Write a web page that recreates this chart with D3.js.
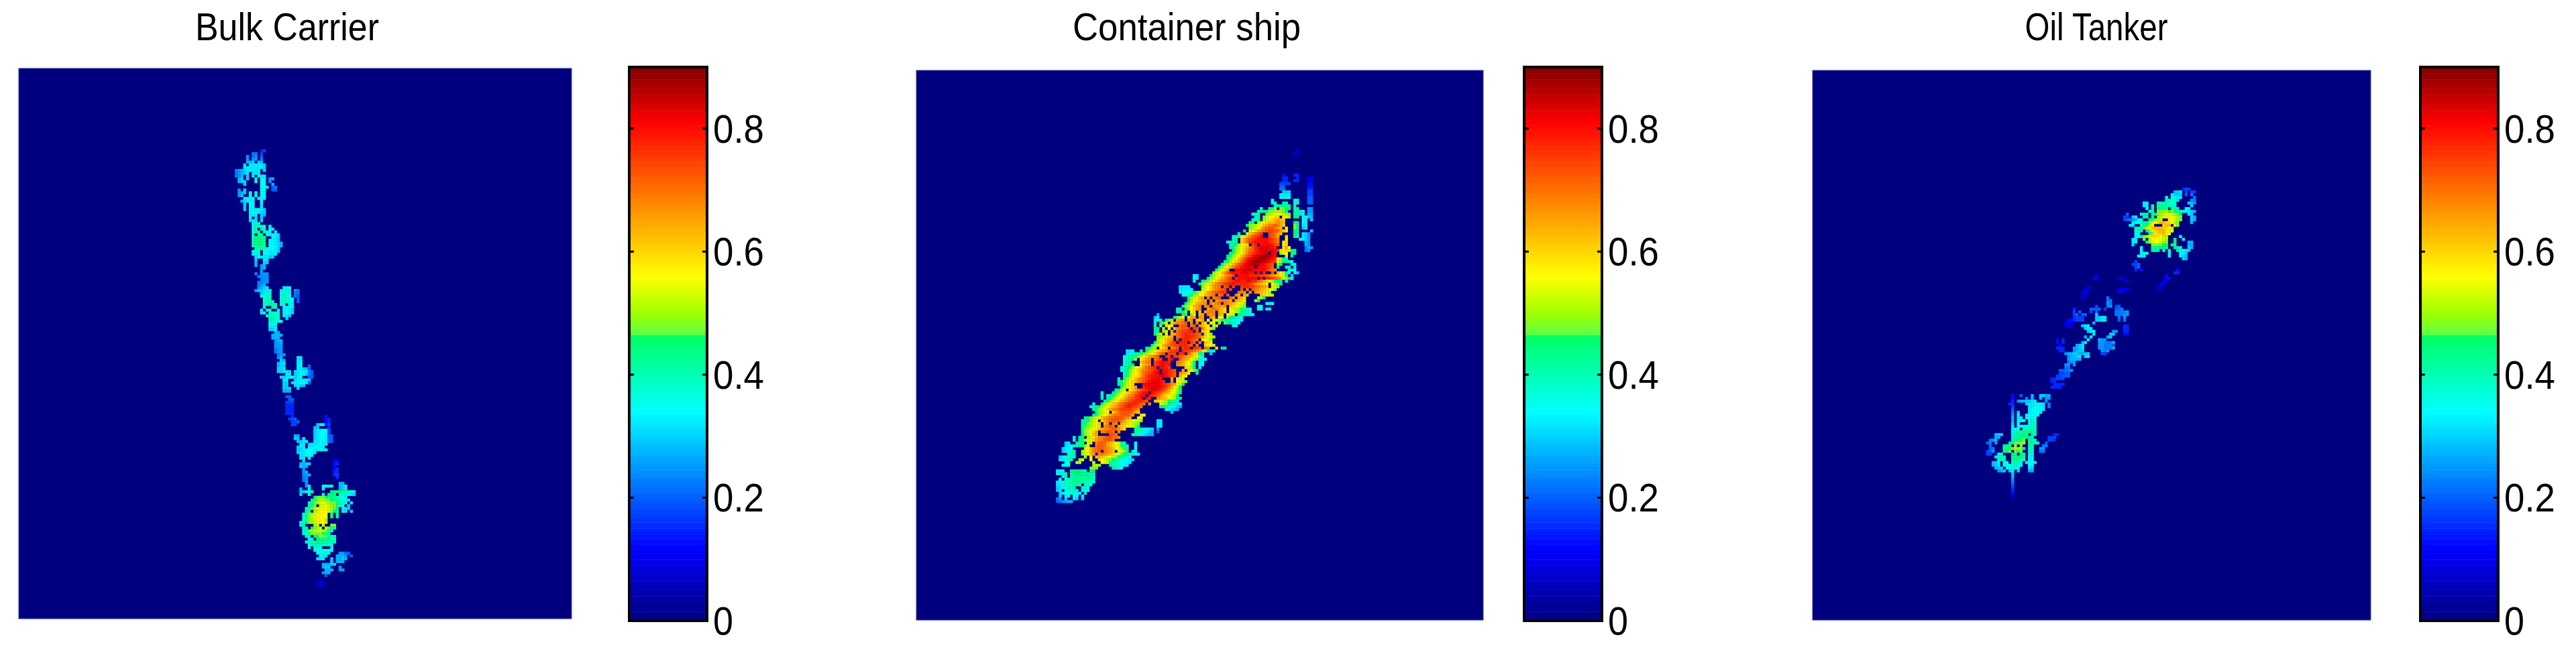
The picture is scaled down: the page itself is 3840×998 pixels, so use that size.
<!DOCTYPE html>
<html>
<head>
<meta charset="utf-8">
<script src="https://cdn.jsdelivr.net/npm/d3@7"></script>
<style>
html, body { margin: 0; background: #fff; }
text { font-family: "Liberation Sans", Arial, sans-serif; fill: #000; }
</style>
</head>
<body>
<script>
var titles = ["Bulk Carrier", "Container ship", "Oil Tanker"];
var titleWidths = [274, 340, 213];
var titleCenters = [428, 1769, 3125];
var tickValues = [0, 0.2, 0.4, 0.6, 0.8];
var colorMax = 0.9;
var colorStops = [0, 0.117, 0.34, 0.462, 0.468, 0.5, 0.56, 0.685, 0.81, 0.9];
var colorValues = ["#00007f", "#0000ff", "#00ffff", "#00ff66", "#66ff40", "#a0ff00", "#ffff00", "#ff8000", "#ff0000", "#800000"];

// cell levels, one char per cell: index in levelChars * levelStep, "." is an empty cell
var levelChars = "0123456789abcdefghijklmnopqrstuvwxyz";
var levelStep = 0.025;

// one string per row, "startCol:levels startCol:levels"
var bulkRows = [
"9:67","6:99 9:7","4:a 6:9a 9:8","4:a 6:aa 9:9","4:bbc 8:cb","3:c 5:dddddc","3:dddddddc","0:9abcddddd 10:c",
"0:9abcd 6:ddd","0:9ab 4:c 6:d 8:edd","1:bc 4:c 7:f 9:ee 12:ab","1:bcc 7:f 9:ee 12:a","3:c 9:ee 13:b","9:eed 13:89","1:a 3:c 9:ee 13:88","1:abc 5:e 7:e 9:ee",
"1:ac 5:e 7:e 9:ee","3:ddde 8:edd","2:bcddd 9:e","3:c 5:ee 9:d","3:c 5:ee 9:d","3:c 5:eeeedc","5:deedcc","5:ddd 9:cb",
"5:d 7:c 9:c","5:cdd 9:c","6:eff","6:efggf 12:e","6:fg 9:gf 12:ed","6:fgh 10:gfe 14:d","6:g 8:hh 11:eeddc","6:fhiih 13:edc",
"6:ghiih 12:eedc","6:ghiih 12:eedcb","6:ghiig 12:eedcb","7:gghgfeedc","6:eff 10:fedddc","6:def 10:eeddd","7:dedddcc","7:c 10:dd",
"7:b 10:cc","7:b 9:ab","9:ab","9:a","7:9 9:aaa","8:9aaa","9:9aa","8:99aa",
"8:9ab","8:abcd 17:dee","7:accdef 16:deff 21:a9","9:cdef 16:effe 21:99","9:efgf 16:fgfe 21:98","10:fgg 16:fgffe 22:8","10:fggg 16:fffed 22:8","10:fghhg 16:ff 19:ed",
"10:f 13:gf 17:eeed","9:d 11:ff 15:f 17:eedc","9:dd 12:ffff 17:eedc","11:fggff 17:ddc","12:gggf 18:c","12:ggfee","12:eee","12:ddd",
"12:ccd","14:bb",
"13:bbbb","13:bbb","14:abb","14:aab","14:aaa","14:9aa","14:9aa","15:9aa",
"15:ab 22:dd","16:cb 22:dd","15:bcd 22:de","15:bcc 22:de 26:8","15:ccd 22:ddcb 26:8","15:ccddc 21:cdeedc 26:98","18:dd 21:cdeec 26:98","16:ccdde 21:cde 26:88",
"17:dd 21:cddddc","17:cc 20:cddeedc 26:8","17:cc 21:cdcc","17:ccc 22:c","17:bbb","","18:88","19:88",
"18:777","18:666","18:666","18:666","18:666","20:6 32:5","19:778 32:56","20:778 32:56",
"20:77 29:cde 32:57","28:bc 33:6","28:cddeec 33:7","28:cdeeed 33:7","21:bb 28:cdeedc 33:88","21:cc 24:d 28:cdeedc 33:88","22:ccdd 28:ddeedc 33:88","23:dd 26:cddeedd",
"22:cdd 26:ddeedd","22:ccddeedd 30:edd","22:cddeeed","23:ddeed","23:dd 26:d","24:c 35:55","23:bbcc 35:56","23:cbb 35:5",
"24:a 35:56","24:ab 35:66","24:aab 35:67","24:9a 36:6","24:9a","25:a 37:bb","25:ad 31:eefg 37:bcd","23:b 26:f 31:f 37:bcd",
"23:ccdeg 34:hhiihgfed","23:c 26:f 31:f 33:iih 37:gffedc","28:ijjjiihhgfed","27:hijkkjjiihgfed","26:gijklmlkjjihgf 41:d","26:gij.llmlkjhfe 40:c","25:ghjlmnnmlkjh 38:fdc","25:gh.klmnmlkih 38:fd 41:c",
"24:fhjklmnnm 34:h 36:h","24:fhjlmnnnm 34:i 36:h","24:fhjklmnmk","23:egijklmnml","23:fg.. 27:.kl.l..kj","24:fg.ijkl.ljhf","24:fhjklllkjif","24:ffhjjjjihg",
"25:fg.iikjjig 35:h","26:ef.ihihhg 34:gf","25:ffgghhhgggf","26:eggggggfe","26:e 28:ffe 33:.f","28:feeeeee","29:eefff 37:aabb 39:88","30:edd 36:bbb 38:ba 41:8",
"29:dde 34:c 36:bbcb","34:c 36:bbb","31:bbbcc","31:bcc 37:a","32:bbb 37:aa","31:abb","32:8","","30:3","29:233","29:222"
];

var containerRows = [
"","92:2","91:22","91:22","","","","","","",
"87:5 91:66","87:66 92:6 96:44","87:66 91:66 96:44","86:7777 96:55","86:88 96:55","86:99 96:66","87:ccc 96:77","86:dddd 96:77","86:eeee 96:88","83:f 91:ff 96:88",
"83:gg 87:hh 91:ff 96:88","84:ghhhhh 91:g","79:g 82:hij 86:jjih 91:gh 96:aa","78:ghhijjkkkji 91:hgff 96:aa","76:fgg 81:jklmmmlkj 91:hgfe 96:bb","77:gh 80:jlmnoo 87:nmk 91:ii 94:ee 96:cb","76:ggh 80:jlnopqp 87:o 94:ed 97:c","75:hi 78:jlnoppqrqp 91:ii 94:ed","74:ijk 77:klnpqrstsqo 91:jh 94:dd","75:jklnprsttsqp 88:n 91:jh 94:cd",
"73:i 75:lmoqrstuuttqon 91:ih 97:c","71:h 74:noqstu 82:utsqp 91:ih 94:dca","69:ggh 72:lnprtuvw 82:utsq 88:o 91:ig 94:dca","69:gh 72:oqstuvwwwwvuts 88:n 93:e 94:dca","67:fggh 72:oqsuvwwwwwvuts 87:no 95:ba","68:ghiklmo 76:uv 79:wwwwvut 87:no 95:ba","68:ghjlmoprtvwxxxwwv 87:nqm 95:9ba","69:ijlmoqstvwxxxxxwv 86:lnoo 90:ih 95:9a","68:hiklnprtuvwxxy 83:xw 86:kmm 90:ih","67:hiklnprtuwxyyzzyxw 88:l 90:h",
"67:ijlnprtvwxyzzzyxwv 85:mkhe","66:hikmoqsuwxyzzzyxwvu 85:lkh 88:hge","65:hjlnprtuwxyyzyxwvut 85:ji 90:gf","64:hjlnprtuwwxxx 78:xwwvut 85:i 88:gf 91:d","63:ikmoq 70:wwxxxxxwwwwvts 84:r 89:gfe","62:jlnprtvwwwxxxww 78:w 80:v 83:t 85:pnlhf 91:dc","55:ed 61:iklnoqrsu 71:wwwwvvvvuutsrqp 86:nlh 90:c","55:ee 60:ijkmoqrtu 70:vwwwwwww 79:w 81:vvutsqmkih 90:g","55:f 58:ghjlmoqrstuvwwvvwwvvtsqomki 85:ih 88:f","57:ijlmoprstuvvwvvvvvutrqpon 83:mkji",
"50:dddd 58:jlmoqrs.tu.u..uvvuutsrqp.olj","50:dddde 58:klnoqrstu.u...t.s.tsrqpomlj","50:deeef 55:hjlmoqrstuvu....ssr.r.rqpolk","51:eef 54:ijkmnpqrs.st.t..rq.qp....ponlk","53:iklnpq.r.rst...sr.qpo....lkh","53:ikmnoqq.r.qrsrrq.qpon 77:kh","52:ijlnpqqr.rqrs.srqponlk 81:eee","51:hjlnpqr.rs.rqrqr.ponlkj 78:gf","49:gg.ikmoqr..qrsrqpo.nlkjigfe 78:ff 81:dd","49:ghij.mo.p.qrsr.qpo.nmkjihgf",
"42:b 51:hi.jm.pq.rqr.qp.nml.ihgfed","41:cd 48:hjlm.nqq.rq..qp.nm.kihgfe","41:def 45:hjk.pqr.qr.poq.n.mlkihgfeeed","41:g.ijl.oqrrst.r.r.qo.ml.k.jihgfe","41:h.j.kmo..stt.st.rpon 62:lk 69:fe","41:hi.k.m.prsttu.ut.spnlj","41:hi.kl.q.stuuvv.t.pon","41:ijl.n.pqstuvvuuts.omk","42:jklnpq.stuvvvutsqonlk","42:klnpqr.u.vvvuts 58:omlj",
"41:ijlnprtu.vvv.ut.s.pon","40:ijlnprstuuvvvut.s..onml","38:hijk.noq.rst.uvv.vut.sr..o.ih","31:dde 36:h 38:iklnop 44:qr 46:tuuv.v 52:uu 54:tsrqol 60:hgf","31:def 34:ghijklmoqst.uuu.uv.tqolgf 61:c","30:efghijlnoqrst..vu.uutsrqpomjf","30:fghij.noqr.stu..vw..trqpnlj 57:eee","30:fgh...pqrs.uvwwwv..srqomkh 57:ee","30:fghi..npqr.uvwwvw..rqpomkh 57:ee","29:eghikmnoqstuv.wwvu 52:olki 57:e",
"29:egijlmoqrstuvw.wwvut..q.omkh","30:ghjlnoqstuvwx.xwvut.rqpn..h","30:hiklnoqsuvwwwxxwvut.qnm","28:g.ijlnprstuvwwxw...q.mlk","28:ghjkmoprstvwxxxwv..r.nmlj","28:hijlno...wwxxxxwvutrqnli","29:iklnoq..vwwxxxwvusqnli","27:hikl.noqstuvwxxwvusqomki","22:f 26:hijlmoprsuvww.wvutrqpnlji","22:g 24:fgijlmoprsuvww.wvutrponlki",
"22:g 24:hijlmoprstuvw.wv..rqponlkih","23:hiklnoqrstuvvvut..pomlkihgf","19:g 22:ijlnoprstuvvvuts.r...mlkihgfe","18:gghiklmopqstuvvuuts 43:ihgfedcb","19:ghjlnoqrstuuuuts 35:r 45:edccb","20:hjklm.oqsttttsqo 47:c","19:hijlmoqrsstttsq..om","16:hijkmnpqrsstttsrq..nm","15:ghijlm.oqrstttsqolnmlk 42:dd","15:hijklmo.pr.sr.qpomlkj 42:de",
"15:hijklmo.rsts.qponmlji 42:dd","15:ijklmnpqrrstsrpo 34:ihgfedc 42:a","15:ijlmoq.rstts.r 34:hgfedcb 42:8","15:ijlnpq....tts 33:hgfedcbb","12:f 14:hi.klnprrsttssr","12:f 14:hi 16:klnoqrsttts","9:cd 13:ghi.lo.rttsqponlig 34:e","9:cde 12:gghijl..sttsqponlihg 34:e","8:cdde 16:lnprsttsrqpnlkih 34:e","8:cdefg 15:klnprst.srqp.mlki.g 34:e",
"10:fgg 15:jlnpq.rsrqpomljihgfed","7:cdefgg 16:k.n.pqponmlkihgfe","7:ddfgg 14:kl..m..onlkjihgfeedc","9:ef 13:lk 19:l..mllhggfeeed","8:def 19:klj 25:hggfeed","18:jkj 26:ggfe",
"6:eee 11:hiiihg 18:hi","6:eefg 11:ghiihhg 18:hg","8:fg 11:hhhhhhih 19:f","7:e 9:fgghhhhhhgf","6:de 8:fgghhhhhggf 19:f","6:dd 8:ef 10:gghh 14:f 16:gff","6:cd 8:ee 10:ggg 15:gff","6:cd 9:ef 11:fff 15:fff","7:cd 9:eeffee 16:f","7:c 9:d 10:e 12:ee 15:d",
"6:9a 9:c 12:dc 15:c","6:89 8:aa 10:bb"
];

var tankerRows = [
"","","","72:677","69:bcd 73:7 75:77","68:dccc 73:8 75:9","66:f 68:eedd 76:9","66:ggffd 75:a9","58:dd 63:ggggfff 74:cba","58:dd 61:f 63:hhhhgfg 75:c",
"59:e 61:g 63:iihh 68:hhg 73:ed","60:fg 63:jjkki 68:jihge 73:edcb","52:8 57:fgh 61:hijklmmlkji 74:dc","51:77 54:cd 58:gh 61:i 63:jlmnnmlkj 75:cb","51:789ab 56:de 60:hijkl 67:nmlkj 75:cb","54:defgh 59:ijlnoppoomkj 75:b","53:de 57:fhikm 64:.opp 69:mj","55:fg 57:hjlnppppoonl","55:ffg 59:ijmopppnlm","55:ef 60:ijnoopnm",
"55:de 57:hj 59:knoonmlk 71:f","54:de 58:j 60:kmnmmlk 69:i 72:f","54:dd 59:iklmmlkj 69:i 74:bb","54:c 61:jjjjii 68:hg 74:bb","57:e 61:hhhhhh 69:hgf 74:cb","57:e 61:hhh 65:g 67:g 70:gfedc","57:dee 67:f 71:edc","56:ddd 67:f 71:dcb","72:cb","55:7",
"54:778","55:78","55:6 57:5 70:5","69:66","41:4 66:5","40:44 49:34 66:55","51:33 65:44","64:44","38:3 63:33","37:33 49:4444 63:22",
"36:333 49:44","36:33","36:3 45:9","45:99","45:a9","41:7 45:9a 48:78","33:6 39:8888 44:7 48:889","33:7 35:8 39:7 41:8 48:9999a","33:78 36:88 41:c 48:999aa","33:677 36:7 41:ccdd 49:9 51:a",
"31:55677 36:7 41:ccdd 49:8 51:9","30:444 40:b","30:444 36:cdd 51:66","37:cdd 51:66","38:cde 47:aa 51:66","40:d 46:cc 51:55","37:b 39:d 45:bc","27:5 29:6 42:baa 38:d","27:5 29:6 36:bd 42:aa999b","28:5 34:bcd 42:aa9998",
"27:666 33:abcd 42:aa999b","28:66 33:abcc 43:a9 45:a","30:abbccbbcc 43:77","31:abbcd 37:cd","31:abbb 35:b","31:9aa","30:aa 33:a","30:99","28:8899a","28:7788",
"27:77888","25:6677 29:7","25:66","26:666 29:6","25:6666","","","11:5 14:8 18:b 21:ccbb","11:5 16:9 18:b 21:b 23:aa","11:6 13:abbccdd 23:a",
"10:66 16:cddeedd 24:9","11:7 17:ddeedd 24:9","11:8 17:deeedd","11:9 13:c 17:deeed","11:a 13:d 16:deeee","11:b 13:dd 16:eefe","11:b 13:eee 17:efe","11:c 13:e 17:ffg","11:d 13:eefffgg","11:d 12:e 13:f 15:ggggg",
"11:efghih 17:hhg","5:bcc 11:fghiii 16:g 18:gg 26:66","5:bb 11:fghiii 17:hg 24:777","3:9ab 11:fghij 17:hgf 24:776","2:89 5:a 10:hijjjk 17:hhgg 23:8","3:8 8:hhi 12:k 14:j 17:hg 22:99","3:8 4:9 8:ghijkkji 17:gg 21:aa","2:78 4:a 8:hij 12:jij 17:ff 21:99","2:77 6:ef 11:hh 14:hg 17:fe","5:dfgg 11:hhiih 17:ee",
"6:fgg 11:hhhgg 17:ee","4:bcd 8:ef 11:fgg 14:f 16:deed","4:bcd 8:efffffe 17:ee","5:bcc 9:eeeee 17:dc","6:abc 10:ce 13:c 17:bb","11:c","11:b","11:a","11:9","11:8","11:7","11:6","11:5","11:3","11:2"
];

var panels = [
  {rows: bulkRows, col0: 77, row0: 29, x: 28, y: 102, w: 824, h: 821, nx: 197, barX: 938},
  {rows: containerRows, col0: 44, row0: 27, x: 1366, y: 105, w: 845, h: 820, nx: 203, barX: 2272},
  {rows: tankerRows, col0: 60, row0: 39, x: 2702, y: 105, w: 832, h: 820, nx: 199.5, barX: 3608}
];
var gridRows = 197;
var barW = 116, barTop = 100, barBottom = 926;

var color = d3.scaleLinear().domain(colorStops).range(colorValues).interpolate(d3.interpolateRgb).clamp(true);

var svg = d3.select("body").append("svg")
    .attr("width", 3840)
    .attr("height", 998)
    .style("display", "block");

function parseRows(p) {
    var cells = [];
    p.rows.forEach(function(line, r) {
        line.split(" ").filter(Boolean).forEach(function(seg) {
            var parts = seg.split(":");
            parts[1].split("").forEach(function(ch, i) {
                var k = levelChars.indexOf(ch);
                if (k >= 0) cells.push({col: p.col0 + (+parts[0]) + i, row: p.row0 + r, value: k * levelStep});
            });
        });
    });
    return cells;
}

panels.forEach(function(p, idx) {
    var g = svg.append("g");
    var x = d3.scaleLinear().domain([0, p.nx]).range([p.x, p.x + p.w]);
    var y = d3.scaleLinear().domain([0, gridRows]).range([p.y, p.y + p.h]);

    // panel background is the zero value
    g.append("rect")
        .attr("x", x(0)).attr("y", y(0))
        .attr("width", p.w).attr("height", p.h)
        .attr("fill", color(0))
        .attr("stroke", "#3a3aa8").attr("stroke-width", 1);

    g.append("g").selectAll("rect")
        .data(parseRows(p))
        .enter().append("rect")
        .attr("x", d => x(d.col))
        .attr("y", d => y(d.row))
        .attr("width", x(1) - x(0) + 0.3)
        .attr("height", y(1) - y(0) + 0.3)
        .attr("fill", d => color(d.value));

    g.append("text")
        .attr("x", titleCenters[idx])
        .attr("y", 60)
        .attr("text-anchor", "middle")
        .attr("font-size", 58)
        .attr("textLength", titleWidths[idx])
        .attr("lengthAdjust", "spacingAndGlyphs")
        .text(titles[idx]);

    // colorbar
    var by = d3.scaleLinear().domain([0, colorMax]).range([barBottom, barTop]);
    var bar = svg.append("g");
    bar.selectAll("rect")
        .data(d3.range(0, 180))
        .enter().append("rect")
        .attr("x", p.barX)
        .attr("y", d => by((d + 1) * colorMax / 180))
        .attr("width", barW)
        .attr("height", d => by(d * colorMax / 180) - by((d + 1) * colorMax / 180) + 0.5)
        .attr("fill", d => color((d + 0.5) * colorMax / 180));
    bar.append("rect")
        .attr("x", p.barX).attr("y", barTop)
        .attr("width", barW).attr("height", barBottom - barTop)
        .attr("fill", "none").attr("stroke", "#000").attr("stroke-width", 4);

    var ticks = bar.selectAll(".tick").data(tickValues).enter().append("g").attr("class", "tick");
    ticks.filter(d => d > 0).append("line")
        .attr("x1", p.barX).attr("x2", p.barX + 7)
        .attr("y1", d => by(d)).attr("y2", d => by(d))
        .attr("stroke", "#000").attr("stroke-width", 3);
    ticks.filter(d => d > 0).append("line")
        .attr("x1", p.barX + barW - 7).attr("x2", p.barX + barW)
        .attr("y1", d => by(d)).attr("y2", d => by(d))
        .attr("stroke", "#000").attr("stroke-width", 3);
    ticks.append("text")
        .attr("x", p.barX + barW + 9)
        .attr("y", d => by(d) + 21)
        .attr("font-size", 60)
        .attr("textLength", d => d === 0 ? 30 : 76)
        .attr("lengthAdjust", "spacingAndGlyphs")
        .text(d => d);
});
</script>
</body>
</html>
